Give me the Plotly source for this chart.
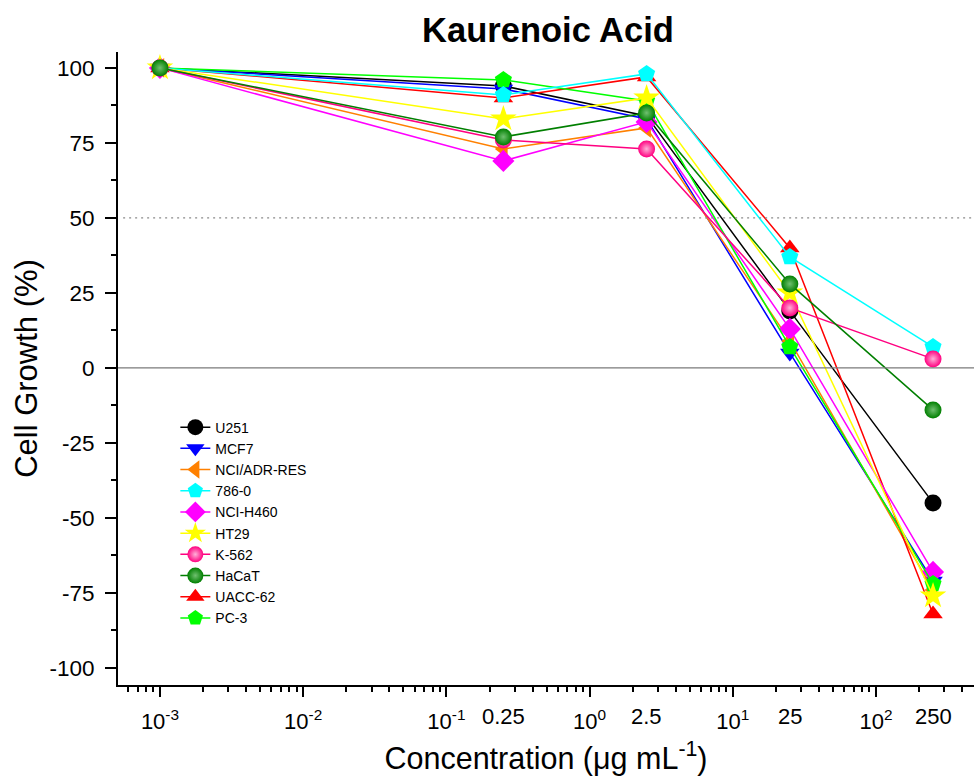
import numpy as np
import plotly.graph_objects as go

# ---- data ----
conc = [0.001, 0.25, 2.5, 25, 250]
lines = ["U251", "MCF7", "NCI/ADR-RES", "786-0", "NCI-H460", "HT29", "K-562", "HaCaT", "UACC-62", "PC-3"]
u251 = [100, 94, 84, 19, -45]
mcf7 = [100, 93, 83, 5, -71]
nci_adr = [100, 73, 80, 9, -74]
c786 = [100, 91, 98, 37, 7]
nci_h460 = [100, 69, 82, 13, -68]
ht29 = [100, 83, 90, 25, -76]
k562 = [100, 76, 73, 20, 3]
hacat = [100, 77, 85, 28, -14]
uacc62 = [100, 90, 97, 40, -82]
pc3 = [100, 96, 89, 7, -72]

series = {
    "U251": u251, "MCF7": mcf7, "NCI/ADR-RES": nci_adr, "786-0": c786,
    "NCI-H460": nci_h460, "HT29": ht29, "K-562": k562, "HaCaT": hacat,
    "UACC-62": uacc62, "PC-3": pc3,
}

x_major_vals = [0.001, 0.01, 0.1, 1, 10, 100]
x_major_text = ["10<sup>-3</sup>", "10<sup>-2</sup>", "10<sup>-1</sup>", "10<sup>0</sup>", "10<sup>1</sup>", "10<sup>2</sup>"]
x_extra_labels = ["0.25", "2.5", "25", "250"]
y_vals = [-100, -75, -50, -25, 0, 25, 50, 75, 100]
y_text = ["-100", "-75", "-50", "-25", "0", "25", "50", "75", "100"]

# ---- styles ----
style = {
    "U251": dict(color="#000000", symbol="circle", size=17),
    "MCF7": dict(color="#0000ff", symbol="triangle-down", size=17),
    "NCI/ADR-RES": dict(color="#ff8000", symbol="triangle-left", size=17),
    "786-0": dict(color="#00ffff", symbol="pentagon", size=18),
    "NCI-H460": dict(color="#ff00ff", symbol="diamond", size=17),
    "HT29": dict(color="#ffff00", symbol="star", size=20),
    "K-562": dict(color="#ff0080", symbol="circle", size=17, grad="#ffb0d8"),
    "HaCaT": dict(color="#007f00", symbol="circle", size=17, grad="#70c070"),
    "UACC-62": dict(color="#ff0000", symbol="triangle-up", size=17),
    "PC-3": dict(color="#00ff00", symbol="pentagon", size=18),
}
draw_order = ["U251", "MCF7", "NCI/ADR-RES", "UACC-62", "NCI-H460", "PC-3", "786-0", "HT29", "K-562", "HaCaT"]

fig = go.Figure()
for name in draw_order:
    st = style[name]
    marker = dict(color=st["color"], symbol=st["symbol"], size=st["size"], line=dict(width=0))
    if "grad" in st:
        marker["gradient"] = dict(type="radial", color=st["grad"])
    fig.add_trace(go.Scatter(
        x=conc, y=series[name], name=name, mode="lines+markers",
        line=dict(color=st["color"], width=1.5), marker=marker,
        legendrank=lines.index(name) + 1,
    ))

xmin, xmax = 10 ** -3.293, 10 ** 2.684
minor_vals = [m * 10.0 ** e for e in range(-4, 3) for m in range(2, 10) if xmin <= m * 10.0 ** e <= xmax]

font_family = "Arial, Liberation Sans, sans-serif"

fig.update_layout(
    width=974, height=776,
    margin=dict(l=118, r=0, t=52, b=91),
    paper_bgcolor="white", plot_bgcolor="white",
    title=dict(text="<b>Kaurenoic Acid</b>", x=548 / 974, xanchor="center", y=1 - 30 / 776, yanchor="middle",
               font=dict(family=font_family, size=34.5, color="black")),
    font=dict(family=font_family, color="black"),
    showlegend=True,
    legend=dict(x=0.067, y=0.432, xanchor="left", yanchor="top", bgcolor="rgba(0,0,0,0)",
                font=dict(size=14, family=font_family), itemsizing="trace", traceorder="normal"),
    xaxis=dict(type="log", range=[np.log10(xmin), np.log10(xmax)], showgrid=False, zeroline=False,
               showline=True, linecolor="black", linewidth=2, ticks="outside", ticklen=10, tickwidth=2,
               tickcolor="black", tickmode="array", tickvals=x_major_vals, ticktext=x_major_text,
               tickfont=dict(size=22), ticklabelstandoff=6,
               minor=dict(tickmode="array", tickvals=minor_vals, ticks="outside", ticklen=5, tickwidth=2,
                          tickcolor="black", showgrid=False),
               title=dict(text="Concentration (μg mL<sup>-1</sup>)", font=dict(size=30.5), standoff=16)),
    yaxis=dict(range=[-105.7, 105.3], showgrid=False, zeroline=False, showline=True, linecolor="black",
               linewidth=2, ticks="outside", ticklen=11, tickwidth=2, tickcolor="black",
               tickmode="array", tickvals=y_vals, ticktext=y_text, tickfont=dict(size=22.5),
               ticklabelstandoff=6,
               minor=dict(dtick=12.5, tick0=0, ticks="outside", ticklen=5, tickwidth=2, tickcolor="black",
                          showgrid=False),
               title=dict(text="Cell Growth (%)", font=dict(size=31), standoff=3)),
)

# reference lines
fig.add_shape(type="line", xref="paper", yref="y", x0=0, x1=1, y0=0, y1=0,
              line=dict(color="#7a7a7a", width=1.2))
fig.add_shape(type="line", xref="paper", yref="y", x0=0.006, x1=1, y0=50, y1=50,
              line=dict(color="#8a8a8a", width=1.2, dash="2px,4px"))

# extra concentration labels
for val, lab in zip(conc[1:], x_extra_labels):
    fig.add_annotation(x=np.log10(val), y=-0.049, xref="x", yref="paper", text=lab, showarrow=False,
                       xanchor="center", yanchor="middle", font=dict(size=22, family=font_family))

fig.write_html("out.html")
